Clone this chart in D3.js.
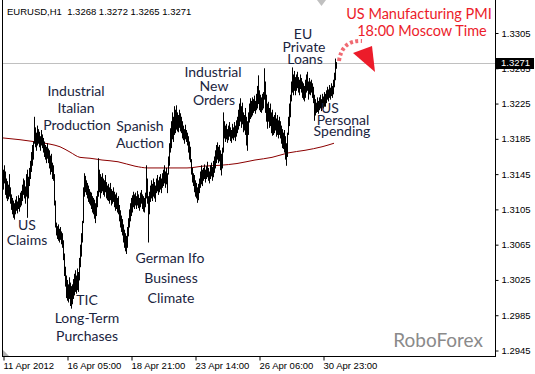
<!DOCTYPE html>
<html>
<head>
<meta charset="utf-8">
<script src="https://cdn.jsdelivr.net/npm/d3@7"></script>
<style>
  body { margin: 0; background: #fff; }
</style>
</head>
<body>
<div id="chart"></div>
<script>
// hourly bars EURUSD H1 (one bar per pixel)
var highs = [
  1.3150,1.3155,1.3148,1.3140,1.3137,1.3133,1.3145,1.3130,1.3122,1.3118,
  1.3115,1.3112,1.3116,1.3120,1.3114,1.3121,1.3118,1.3124,1.3126,1.3133,
  1.3140,1.3138,1.3131,1.3145,1.3150,1.3142,1.3152,1.3160,1.3170,1.3178,
  1.3182,1.3210,1.3198,1.3192,1.3200,1.3196,1.3193,1.3188,1.3195,1.3190,
  1.3186,1.3182,1.3178,1.3176,1.3180,1.3174,1.3172,1.3166,1.3168,1.3158,
  1.3155,1.3145,1.3115,1.3090,1.3086,1.3088,1.3083,1.3085,1.3080,1.3078,
  1.3070,1.3055,1.3040,1.3030,1.3025,1.3020,1.3028,1.3022,1.3018,1.3020,
  1.3026,1.3032,1.3036,1.3030,1.3038,1.3034,1.3050,1.3065,1.3078,1.3092,
  1.3130,1.3146,1.3143,1.3138,1.3135,1.3132,1.3128,1.3125,1.3124,1.3120,
  1.3118,1.3116,1.3112,1.3120,1.3126,1.3163,1.3150,1.3145,1.3142,1.3146,
  1.3140,1.3138,1.3144,1.3136,1.3132,1.3134,1.3130,1.3135,1.3128,1.3126,
  1.3130,1.3125,1.3122,1.3124,1.3118,1.3120,1.3110,1.3104,1.3098,1.3094,
  1.3088,1.3082,1.3078,1.3075,1.3085,1.3095,1.3105,1.3112,1.3118,1.3121,
  1.3125,1.3122,1.3124,1.3120,1.3126,1.3122,1.3118,1.3124,1.3127,1.3122,
  1.3120,1.3118,1.3124,1.3155,1.3140,1.3120,1.3125,1.3132,1.3138,1.3134,
  1.3140,1.3136,1.3132,1.3140,1.3144,1.3138,1.3142,1.3145,1.3140,1.3146,
  1.3150,1.3155,1.3148,1.3152,1.3146,1.3165,1.3180,1.3197,1.3205,1.3215,
  1.3210,1.3222,1.3218,1.3223,1.3215,1.3212,1.3218,1.3214,1.3210,1.3205,
  1.3200,1.3196,1.3201,1.3195,1.3192,1.3188,1.3182,1.3176,1.3162,1.3152,
  1.3146,1.3144,1.3138,1.3135,1.3130,1.3134,1.3140,1.3148,1.3155,1.3150,
  1.3152,1.3156,1.3150,1.3154,1.3159,1.3152,1.3148,1.3155,1.3158,1.3153,
  1.3160,1.3165,1.3172,1.3178,1.3181,1.3176,1.3178,1.3172,1.3168,1.3175,
  1.3215,1.3205,1.3200,1.3202,1.3196,1.3200,1.3204,1.3198,1.3195,1.3202,
  1.3198,1.3204,1.3200,1.3206,1.3210,1.3218,1.3225,1.3231,1.3222,1.3226,
  1.3215,1.3212,1.3220,1.3210,1.3205,1.3215,1.3225,1.3231,1.3228,1.3232,
  1.3230,1.3234,1.3228,1.3236,1.3245,1.3257,1.3240,1.3235,1.3232,1.3236,
  1.3238,1.3265,1.3250,1.3235,1.3225,1.3227,1.3220,1.3225,1.3215,1.3218,
  1.3210,1.3212,1.3215,1.3208,1.3212,1.3206,1.3210,1.3205,1.3200,1.3196,
  1.3192,1.3195,1.3188,1.3180,1.3192,1.3210,1.3225,1.3235,1.3250,1.3266,
  1.3258,1.3262,1.3255,1.3258,1.3261,1.3255,1.3252,1.3258,1.3254,1.3250,
  1.3248,1.3245,1.3252,1.3258,1.3261,1.3250,1.3254,1.3250,1.3252,1.3248,
  1.3244,1.3235,1.3230,1.3226,1.3232,1.3228,1.3232,1.3235,1.3230,1.3236,
  1.3233,1.3238,1.3236,1.3240,1.3244,1.3241,1.3246,1.3243,1.3248,1.3245,
  1.3252,1.3260,1.3276,1.3272
];
var lows = [
  1.3128,1.3135,1.3122,1.3118,1.3115,1.3117,1.3120,1.3112,1.3105,1.3100,
  1.3096,1.3094,1.3100,1.3104,1.3101,1.3106,1.3103,1.3108,1.3110,1.3115,
  1.3122,1.3118,1.3112,1.3120,1.3096,1.3118,1.3132,1.3140,1.3148,1.3155,
  1.3162,1.3180,1.3176,1.3172,1.3178,1.3180,1.3176,1.3172,1.3178,1.3175,
  1.3170,1.3165,1.3162,1.3158,1.3163,1.3158,1.3152,1.3145,1.3148,1.3140,
  1.3138,1.3110,1.3085,1.3076,1.3072,1.3070,1.3068,1.3071,1.3066,1.3062,
  1.3048,1.3030,1.3018,1.3005,1.3002,1.3000,1.3004,1.2996,1.2993,1.2998,
  1.3004,1.3008,1.3012,1.3010,1.3014,1.3012,1.3025,1.3040,1.3052,1.3068,
  1.3090,1.3120,1.3125,1.3122,1.3118,1.3114,1.3112,1.3110,1.3106,1.3102,
  1.3100,1.3095,1.3090,1.3098,1.3108,1.3120,1.3125,1.3118,1.3124,1.3126,
  1.3122,1.3120,1.3125,1.3118,1.3116,1.3115,1.3112,1.3116,1.3110,1.3112,
  1.3114,1.3108,1.3104,1.3106,1.3102,1.3100,1.3092,1.3085,1.3080,1.3076,
  1.3068,1.3062,1.3058,1.3055,1.3062,1.3075,1.3085,1.3092,1.3098,1.3102,
  1.3108,1.3106,1.3110,1.3106,1.3110,1.3107,1.3104,1.3108,1.3112,1.3106,
  1.3103,1.3102,1.3108,1.3118,1.3112,1.3068,1.3100,1.3114,1.3118,1.3115,
  1.3120,1.3118,1.3114,1.3124,1.3126,1.3122,1.3125,1.3128,1.3124,1.3130,
  1.3132,1.3135,1.3130,1.3134,1.3124,1.3145,1.3155,1.3170,1.3175,1.3185,
  1.3182,1.3190,1.3192,1.3196,1.3194,1.3193,1.3198,1.3194,1.3192,1.3186,
  1.3184,1.3180,1.3185,1.3182,1.3178,1.3170,1.3162,1.3159,1.3145,1.3136,
  1.3132,1.3125,1.3120,1.3118,1.3113,1.3116,1.3124,1.3130,1.3134,1.3132,
  1.3138,1.3140,1.3136,1.3140,1.3142,1.3138,1.3135,1.3140,1.3143,1.3138,
  1.3142,1.3147,1.3152,1.3158,1.3162,1.3158,1.3160,1.3150,1.3144,1.3152,
  1.3170,1.3186,1.3182,1.3185,1.3181,1.3184,1.3188,1.3183,1.3181,1.3186,
  1.3184,1.3187,1.3183,1.3188,1.3192,1.3196,1.3200,1.3205,1.3198,1.3202,
  1.3193,1.3195,1.3190,1.3178,1.3172,1.3190,1.3204,1.3208,1.3210,1.3212,
  1.3215,1.3217,1.3214,1.3218,1.3220,1.3225,1.3218,1.3216,1.3215,1.3218,
  1.3220,1.3230,1.3215,1.3205,1.3197,1.3205,1.3198,1.3200,1.3192,1.3189,
  1.3190,1.3192,1.3195,1.3188,1.3190,1.3186,1.3190,1.3186,1.3180,1.3175,
  1.3174,1.3170,1.3162,1.3155,1.3165,1.3190,1.3200,1.3210,1.3228,1.3238,
  1.3235,1.3240,1.3235,1.3240,1.3243,1.3238,1.3235,1.3242,1.3238,1.3232,
  1.3230,1.3228,1.3232,1.3238,1.3240,1.3230,1.3236,1.3235,1.3238,1.3232,
  1.3226,1.3206,1.3212,1.3215,1.3216,1.3214,1.3218,1.3220,1.3217,1.3221,
  1.3220,1.3222,1.3222,1.3226,1.3230,1.3228,1.3232,1.3230,1.3234,1.3232,
  1.3236,1.3244,1.3252,1.3265
];

// moving average, read at some bars
var maBars   = [0, 17, 30, 47, 57, 67, 77, 87, 99, 115, 132, 145, 159, 172, 184, 200, 217, 234, 252, 269, 285, 302, 319, 331];
var maValues = [1.3186,1.3184,1.3182,1.3179,1.3176,1.3170,1.3164,1.3163,1.3161,1.3159,1.3154,1.3152,1.3152,1.3152,1.3152,1.3154,1.3155,1.3157,1.3161,1.3164,1.3169,1.3172,1.3176,1.3180];

var priceTicks = [1.3305, 1.3265, 1.3225, 1.3185, 1.3145, 1.3105, 1.3065, 1.3025, 1.2985, 1.2945];
var timeTickBars = [0, 64, 128, 192, 256, 320];
var timeLabels = ["11 Apr 2012", "16 Apr 05:00", "18 Apr 21:00", "23 Apr 14:00", "26 Apr 06:00", "30 Apr 23:00"];

var lastBar = ["1.3268", "1.3272", "1.3265", "1.3271"];
var lastPrice = 1.3271;

var notes = [
  {x: 76,  y: 96,  t: "Industrial"},
  {x: 76,  y: 113, t: "Italian"},
  {x: 77,  y: 130, t: "Production"},
  {x: 140, y: 131, t: "Spanish"},
  {x: 140, y: 148, t: "Auction"},
  {x: 27,  y: 230, t: "US"},
  {x: 27,  y: 245, t: "Claims"},
  {x: 87,  y: 305, t: "TIC"},
  {x: 87,  y: 323, t: "Long-Term"},
  {x: 87,  y: 341, t: "Purchases"},
  {x: 170, y: 263, t: "German Ifo"},
  {x: 171, y: 283, t: "Business"},
  {x: 171, y: 303, t: "Climate"},
  {x: 213, y: 77,  t: "Industrial"},
  {x: 214, y: 91,  t: "New"},
  {x: 214, y: 105, t: "Orders"},
  {x: 303, y: 39,  t: "EU"},
  {x: 304, y: 52,  t: "Private"},
  {x: 305, y: 64,  t: "Loans"},
  {x: 330, y: 113, t: "US"},
  {x: 343, y: 125, t: "Personal"},
  {x: 342, y: 136, t: "Spending"}
];

(function() {
    var width = 535,
        height = 374;

    var svg = d3.select("#chart")
        .append("svg")
        .attr("width", width)
        .attr("height", height)
        .style("display", "block");

    svg.append("rect")
        .attr("width", width)
        .attr("height", height)
        .attr("fill", "#fff");

    var x = d3.scaleLinear().domain([0, 492]).range([3, 495]);
    var y = d3.scaleLinear().domain([1.2945, 1.3305]).range([350.5, 33]);

    // current price line
    svg.append("line")
        .attr("x1", 3).attr("x2", 495)
        .attr("y1", Math.round(y(lastPrice)) + 0.5)
        .attr("y2", Math.round(y(lastPrice)) + 0.5)
        .attr("stroke", "#c0c0c0")
        .attr("shape-rendering", "crispEdges");

    // moving average
    var maData = maBars.map(function(b, i) { return {b: b, v: maValues[i]}; });
    var maLine = d3.line()
        .x(function(d) { return x(d.b); })
        .y(function(d) { return y(d.v); })
        .curve(d3.curveMonotoneX);

    svg.append("path")
        .datum(maData)
        .attr("d", maLine)
        .attr("fill", "none")
        .attr("stroke", "#8b0000")
        .attr("stroke-width", 1);

    // bars
    svg.selectAll(".bar")
        .data(highs)
        .enter().append("line")
        .attr("class", "bar")
        .attr("x1", function(d, i) { return Math.round(x(i)) + 0.5; })
        .attr("x2", function(d, i) { return Math.round(x(i)) + 0.5; })
        .attr("y1", function(d) { return y(d); })
        .attr("y2", function(d, i) { return y(lows[i]) + 0.5; })
        .attr("stroke", "#000")
        .attr("stroke-width", 1);

    // frame
    svg.append("path")
        .attr("d", "M2.5,0V356.5H495.5V0")
        .attr("fill", "none")
        .attr("stroke", "#000")
        .attr("shape-rendering", "crispEdges");

    // chart shift markers
    svg.append("path")
        .attr("d", "M3,350L3,356L9,356Z")
        .attr("fill", "#b0b0b0");
    svg.append("path")
        .attr("d", "M317,0L326,0L321.5,6Z")
        .attr("fill", "#c0c0c0");

    // price axis
    var yAxis = d3.axisRight(y)
        .tickValues(priceTicks)
        .tickSize(3)
        .tickPadding(3)
        .tickFormat(d3.format(".4f"));

    var gy = svg.append("g")
        .attr("transform", "translate(495.5,0)")
        .call(yAxis);
    gy.select(".domain").remove();
    gy.selectAll("text")
        .attr("font-family", "Liberation Sans, Arial, sans-serif")
        .attr("font-size", 9.5)
        .attr("fill", "#000");

    // time axis
    var xAxis = d3.axisBottom(x)
        .tickValues(timeTickBars)
        .tickSize(4)
        .tickFormat(function(d, i) { return timeLabels[i]; });

    var gx = svg.append("g")
        .attr("transform", "translate(0.5,356.5)")
        .call(xAxis);
    gx.select(".domain").remove();
    gx.selectAll("text")
        .attr("text-anchor", "start")
        .attr("x", -0.5)
        .attr("y", 6)
        .attr("font-family", "Liberation Sans, Arial, sans-serif")
        .attr("font-size", 9.5)
        .attr("fill", "#000");

    // last price box
    svg.append("rect")
        .attr("x", 496)
        .attr("y", Math.round(y(lastPrice)) - 5)
        .attr("width", 38)
        .attr("height", 11)
        .attr("fill", "#000");
    svg.append("text")
        .attr("x", 501)
        .attr("y", y(lastPrice))
        .attr("dy", "0.35em")
        .attr("font-family", "Liberation Sans, Arial, sans-serif")
        .attr("font-size", 9.5)
        .attr("fill", "#fff")
        .text(d3.format(".4f")(lastPrice));

    // header
    svg.append("text")
        .attr("x", 7)
        .attr("y", 15)
        .attr("font-family", "Liberation Sans, Arial, sans-serif")
        .attr("font-size", 9.5)
        .attr("fill", "#000")
        .attr("xml:space", "preserve")
        .text("EURUSD,H1  " + lastBar.join(" "));

    // news notes
    svg.selectAll(".note")
        .data(notes)
        .enter().append("text")
        .attr("class", "note")
        .attr("x", function(d) { return d.x; })
        .attr("y", function(d) { return d.y; })
        .attr("text-anchor", "middle")
        .attr("font-family", "Lato, sans-serif")
        .attr("font-size", 14)
        .attr("fill", "#1a2440")
        .text(function(d) { return d.t; });

    // US PMI callout
    svg.append("text")
        .attr("class", "pmi")
        .attr("x", 419).attr("y", 19)
        .text("US Manufacturing PMI");
    svg.append("text")
        .attr("class", "pmi")
        .attr("x", 422).attr("y", 36)
        .text("18:00 Moscow Time");
    d3.selectAll(".pmi")
        .attr("text-anchor", "middle")
        .attr("font-family", "Lato, sans-serif")
        .attr("font-size", 14.5)
        .attr("fill", "#ec1c2a");

    svg.append("path")
        .attr("d", "M339,61Q342,40 362,41")
        .attr("fill", "none")
        .attr("stroke", "#f06a72")
        .attr("stroke-width", 4)
        .attr("stroke-dasharray", "3,2.5");
    svg.append("path")
        .attr("d", "M353,53L372,46L375,72Z")
        .attr("fill", "#ec1c2a");

    // watermark
    svg.append("text")
        .attr("x", 483)
        .attr("y", 347)
        .attr("text-anchor", "end")
        .attr("font-family", "Lato, sans-serif")
        .attr("font-size", 19)
        .attr("fill", "#8a8a8a")
        .text("RoboForex");
})();
</script>
</body>
</html>
